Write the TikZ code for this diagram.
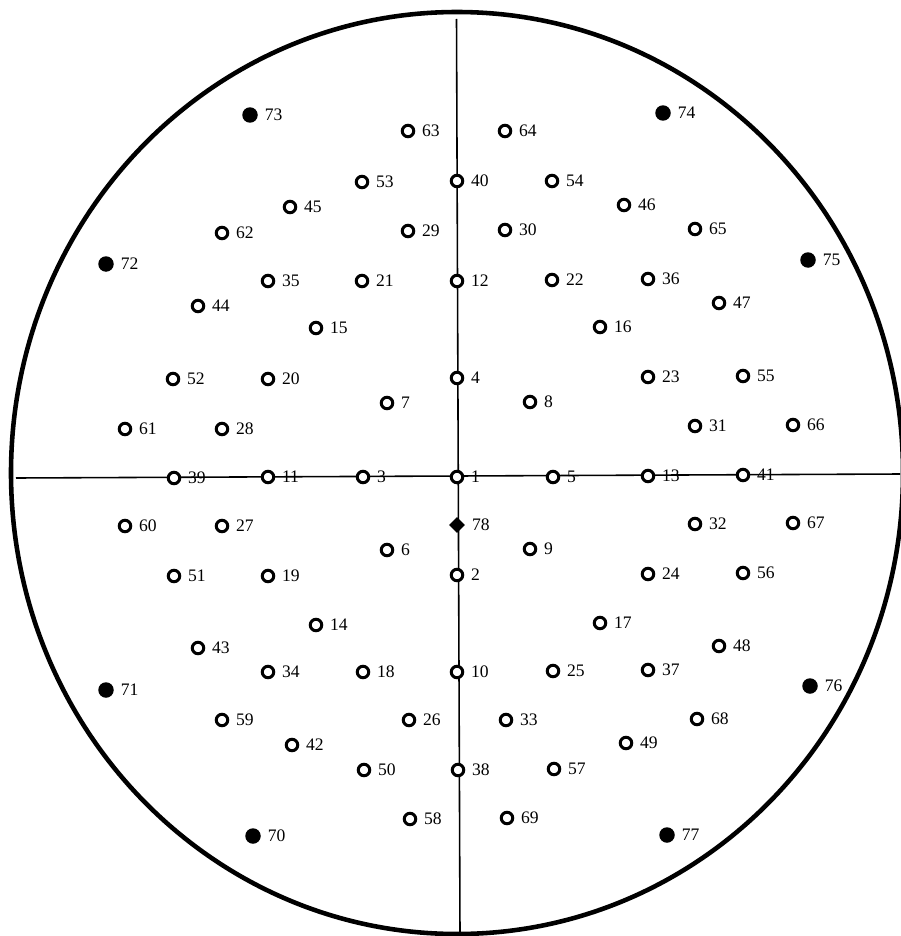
\documentclass[tikz,border=0pt]{standalone}
\usepackage{fontspec}
\setmainfont{Liberation Serif}
\usetikzlibrary{shapes.geometric}
\begin{document}
\begin{tikzpicture}[x=0.02cm,y=-0.02cm,
  openpt/.style={circle,draw,line width=1.7pt,minimum size=0.23cm,inner sep=0pt,fill=white},
  fullpt/.style={circle,fill,minimum size=0.31cm,inner sep=0pt},
  diapt/.style={diamond,fill,minimum size=0.32cm,inner sep=0pt},
  lab/.style={anchor=west,inner sep=0pt,font=\fontsize{10}{12}\selectfont,xshift=0.13cm}]
\useasboundingbox (0,0) rectangle (900,936);
\draw[line width=2.6pt] (457,473) ellipse [x radius=446, y radius=461];
\coordinate (vt) at (456.5,19);
\coordinate (vb) at (460,934);
\coordinate (hl) at (16,478);
\coordinate (hr) at (900,474);
\draw[line width=0.9pt] (vt) -- (vb);
\draw[line width=0.9pt] (hl) -- (hr);
\foreach \n/\x/\y in {
63/408/131, 64/505/131, 53/362/182, 40/457/181, 54/552/181, 45/290/207, 46/624/205,
62/222/233, 29/408/231, 30/505/230, 65/695/229, 35/268/281, 21/362/281, 12/457/281,
22/552/280, 36/648/279, 47/719/303, 44/198/306, 15/316/328, 16/600/327,
52/173/379, 20/268/379, 4/457/378, 23/648/377, 55/743/376, 7/387/403, 8/530/402,
61/125/429, 28/222/429, 31/695/426, 66/793/425,
39/174/478, 11/268/477, 3/363/477, 1/457/477, 5/553/477, 13/648/476, 41/743/475,
60/125/526, 27/222/526, 32/695/524, 67/793/523, 6/387/550, 9/530/549,
51/174/576, 19/268/576, 2/457/575, 24/648/574, 56/743/573, 14/316/625, 17/600/623,
43/198/648, 48/719/646, 34/268/672, 18/363/672, 10/457/672, 25/553/671, 37/648/670,
59/222/720, 26/409/720, 33/506/720, 68/697/719, 42/292/745, 49/626/743,
50/364/770, 38/458/770, 57/554/769, 58/410/819, 69/507/818}
{\node[openpt] (p\n) at (\x,\y) {};
 \node[lab] (l\n) at (p\n.east) {\n};}
\foreach \n/\x/\y in {73/250/115, 74/663/113, 72/106/264, 75/808/260,
71/106/690, 76/810/686, 70/253/836, 77/667/835}
{\node[fullpt] (p\n) at (\x,\y) {};
 \node[lab] (l\n) at (p\n.east) {\n};}
\node[diapt] (p78) at (457,525) {};
\node[lab] (l78) at (p78.east) {78};
\end{tikzpicture}
\end{document}
